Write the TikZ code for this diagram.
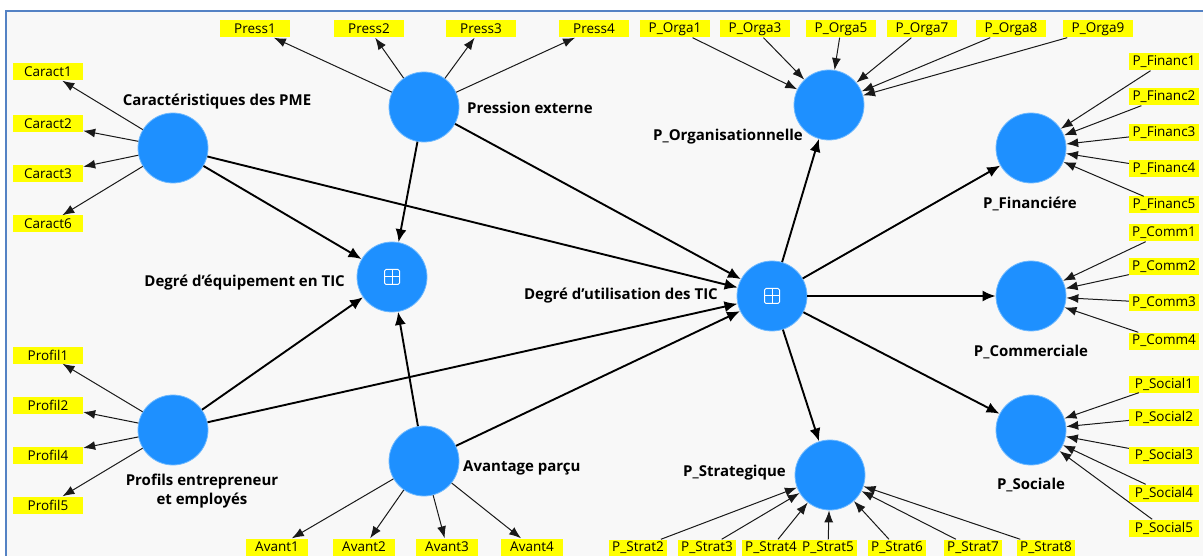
\documentclass[tikz,border=0pt]{standalone}
\usepackage{fontspec}
\setmainfont{Open Sans}
\usetikzlibrary{arrows.meta}
\definecolor{lvblue}{RGB}{30,144,255}
\definecolor{lvedge}{RGB}{110,185,255}
\definecolor{indyellow}{RGB}{255,255,0}
\definecolor{framecol}{RGB}{84,130,196}
\definecolor{canvas}{RGB}{248,248,248}
\begin{document}
\begin{tikzpicture}[x=1pt,y=-1pt,
  latent/.style={circle,fill=lvblue,draw=lvedge,line width=0.8pt,minimum size=70pt,inner sep=0pt},
  ind/.style={fill=indyellow,font=\fontsize{13.5}{14}\selectfont,minimum height=17pt,minimum width=70pt,inner sep=0.5pt},
  indnarrow/.style={ind,minimum width=58pt},
  indmid/.style={ind,minimum width=62pt},
  lvlabel/.style={font=\fontsize{15}{17}\selectfont\bfseries,inner sep=0pt},
  struct/.style={line width=1.9pt,-{Latex[length=13pt,width=11pt]}},
  meas/.style={line width=1pt,draw=black!90,-{Latex[length=12pt,width=9pt]}},
  plusbox/.style={white,line width=1pt},
]
\useasboundingbox (0,0) rectangle (1203,556);
\clip (0,0) rectangle (1203,556);

% canvas and frame
\fill[canvas] (6,11) rectangle (1215,570);
\draw[framecol,line width=1.6pt] (6,570) -- (6,11) -- (1215,11);

% latent variables
\node[latent] (caract)  at (173,148) {};
\node[latent] (press)   at (424,107) {};
\node[latent] (equip)   at (392,277) {};
\node[latent] (util)    at (772,296) {};
\node[latent] (profils) at (173,430) {};
\node[latent] (avant)   at (424,461) {};
\node[latent] (porga)   at (829,105) {};
\node[latent] (pfin)    at (1031,148) {};
\node[latent] (pcomm)   at (1031,296) {};
\node[latent] (psoc)    at (1031,430) {};
\node[latent] (pstrat)  at (830,475) {};

% higher-order markers
\foreach \n in {equip,util}{
  \begin{scope}[shift={(\n)}]
    \draw[plusbox,rounded corners=1.5pt] (-7.5,-7.5) rectangle (7.5,7.5);
    \draw[plusbox] (-7.5,0) -- (7.5,0) (0,-7.5) -- (0,7.5);
  \end{scope}
}

% latent labels
\node[lvlabel] (lcaract) at (217,102) {Caractéristiques des PME};
\node[lvlabel,anchor=west] (lpress) at (467,108) {Pression externe};
\node[lvlabel,anchor=east] (lequip) at (345,283) {Degré d'équipement en TIC};
\node[lvlabel,anchor=east] (lutil) at (718,296) {Degré d'utilisation des TIC};
\node[lvlabel,align=center] (lprofils) at (202,491) {Profils entrepreneur\\[2pt]et employés};
\node[lvlabel,anchor=west] (lavant) at (463,468) {Avantage parçu};
\node[lvlabel,anchor=west] (lporga) at (653,137) {P\_Organisationnelle};
\node[lvlabel] (lpfin) at (1030,204) {P\_Financiére};
\node[lvlabel] (lpcomm) at (1031,352) {P\_Commerciale};
\node[lvlabel] (lpsoc) at (1031,485) {P\_Sociale};
\node[lvlabel,anchor=west] (lpstrat) at (683,473) {P\_Strategique};

% indicators
\node[ind] (c1) at (48,72) {Caract1};
\node[ind] (c2) at (48,124) {Caract2};
\node[ind] (c3) at (48,174) {Caract3};
\node[ind] (c6) at (48,224) {Caract6};

\node[ind] (pr1) at (255,29) {Press1};
\node[ind] (pr2) at (369,29) {Press2};
\node[ind] (pr3) at (481,29) {Press3};
\node[ind] (pr4) at (594,29) {Press4};

\node[ind] (o1) at (675,29) {P\_Orga1};
\node[ind] (o3) at (755,29) {P\_Orga3};
\node[ind] (o5) at (841,29) {P\_Orga5};
\node[ind] (o7) at (922,29) {P\_Orga7};
\node[ind] (o8) at (1011,29) {P\_Orga8};
\node[ind] (o9) at (1098,29) {P\_Orga9};

\node[ind] (f1) at (1164,62) {P\_Financ1};
\node[ind] (f2) at (1164,97) {P\_Financ2};
\node[ind] (f3) at (1164,133) {P\_Financ3};
\node[ind] (f4) at (1164,169) {P\_Financ4};
\node[ind] (f5) at (1164,205) {P\_Financ5};

\node[ind] (m1) at (1164,233) {P\_Comm1};
\node[ind] (m2) at (1164,267) {P\_Comm2};
\node[ind] (m3) at (1164,303) {P\_Comm3};
\node[ind] (m4) at (1164,341) {P\_Comm4};

\node[ind] (s1) at (1164,384) {P\_Social1};
\node[ind] (s2) at (1164,417) {P\_Social2};
\node[ind] (s3) at (1164,455) {P\_Social3};
\node[ind] (s4) at (1164,493) {P\_Social4};
\node[ind] (s5) at (1164,528) {P\_Social5};

\node[ind] (pf1) at (48,355) {Profil1};
\node[ind] (pf2) at (48,405) {Profil2};
\node[ind] (pf4) at (48,455) {Profil4};
\node[ind] (pf5) at (48,505) {Profil5};

\node[indmid] (a1) at (277,547) {Avant1};
\node[indmid] (a2) at (364,547) {Avant2};
\node[indmid] (a3) at (447,547) {Avant3};
\node[indmid] (a4) at (532,547) {Avant4};

\node[indnarrow] (st2) at (638,548) {P\_Strat2};
\node[indnarrow] (st3) at (707,548) {P\_Strat3};
\node[indnarrow] (st4) at (771,548) {P\_Strat4};
\node[indnarrow] (st5) at (828,548) {P\_Strat5};
\node[indnarrow] (st6) at (897,548) {P\_Strat6};
\node[indnarrow] (st7) at (973,548) {P\_Strat7};
\node[indnarrow] (st8) at (1046,548) {P\_Strat8};

% reflective measurement
\foreach \i in {c1,c2,c3,c6} \draw[meas] (caract) -- (\i);
\foreach \i in {pr1,pr2,pr3,pr4} \draw[meas] (press) -- (\i);
\foreach \i in {pf1,pf2,pf4,pf5} \draw[meas] (profils) -- (\i);
\foreach \i in {a1,a2,a3,a4} \draw[meas] (avant) -- (\i);

% formative measurement
\foreach \i in {o1,o3,o5,o7,o8,o9} \draw[meas] (\i) -- (porga);
\foreach \i in {f1,f2,f3,f4,f5} \draw[meas] (\i) -- (pfin);
\foreach \i in {m1,m2,m3,m4} \draw[meas] (\i) -- (pcomm);
\foreach \i in {s1,s2,s3,s4,s5} \draw[meas] (\i) -- (psoc);
\foreach \i in {st2,st3,st4,st5,st6,st7,st8} \draw[meas] (\i) -- (pstrat);

% structural paths
\draw[struct] (caract) -- (equip);
\draw[struct] (caract) -- (util);
\draw[struct] (press) -- (equip);
\draw[struct] (press) -- (util);
\draw[struct] (profils) -- (equip);
\draw[struct] (profils) -- (util);
\draw[struct] (avant) -- (equip);
\draw[struct] (avant) -- (util);
\draw[struct] (util) -- (porga);
\draw[struct] (util) -- (pfin);
\draw[struct] (util) -- (pcomm);
\draw[struct] (util) -- (psoc);
\draw[struct] (util) -- (pstrat);
\end{tikzpicture}
\end{document}
